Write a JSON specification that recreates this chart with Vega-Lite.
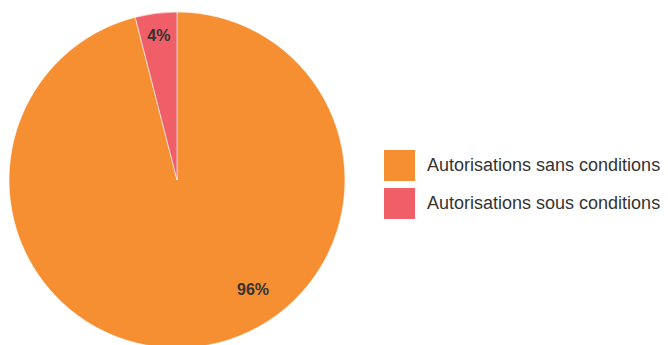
{
  "$schema": "https://vega.github.io/schema/vega-lite/v6.json",
  "width": 354,
  "height": 360,
  "padding": 0,
  "autosize": "pad",
  "background": "white",
  "data": {"values": [
    {"categorie": "Autorisations sans conditions", "part": 96, "label": "96%"},
    {"categorie": "Autorisations sous conditions", "part": 4, "label": "4%"}
  ]},
  "encoding": {
    "theta": {"field": "part", "type": "quantitative", "stack": true},
    "order": {"field": "categorie", "type": "nominal", "sort": "ascending"}
  },
  "layer": [
    {
      "mark": {"type": "arc", "radius": 168, "stroke": "#ffffff", "strokeWidth": 0.6},
      "encoding": {
        "color": {
          "field": "categorie", "type": "nominal",
          "scale": {"domain": ["Autorisations sans conditions", "Autorisations sous conditions"], "range": ["#F68E32", "#F05E68"]},
          "legend": {
            "title": null, "orient": "none", "legendX": 384, "legendY": 150,
            "symbolType": "square", "symbolSize": 961, "symbolStrokeWidth": 0,
            "labelFontSize": 18, "labelFont": "Liberation Sans", "labelColor": "#333333",
            "labelOffset": 12, "rowPadding": 7, "labelLimit": 400
          }
        }
      }
    },
    {
      "transform": [{"filter": "datum.part < 50"}],
      "mark": {"type": "text", "radius": 145, "font": "Liberation Sans", "fontWeight": "bold", "fontSize": 16, "color": "#333333", "align": "center", "baseline": "middle", "theta": -0.1257},
      "encoding": {"theta": null, "order": null, "text": {"field": "label"}}
    },
    {
      "transform": [{"filter": "datum.part > 50"}],
      "mark": {"type": "text", "radius": 134, "font": "Liberation Sans", "fontWeight": "bold", "fontSize": 16, "color": "#333333", "align": "center", "baseline": "middle", "theta": 2.538},
      "encoding": {"theta": null, "order": null, "text": {"field": "label"}}
    }
  ]
}
